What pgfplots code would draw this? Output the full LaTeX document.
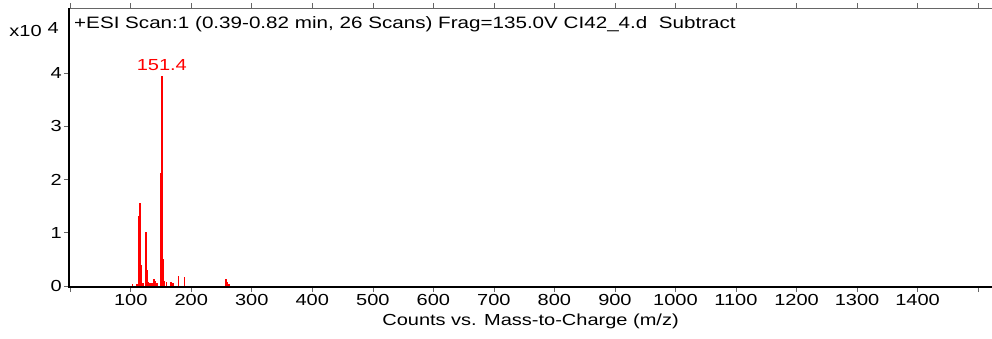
\documentclass[border=0pt]{standalone}
\usepackage{pgfplots}
\pgfplotsset{compat=1.18}
\usepackage{fontspec}
\setmainfont{Liberation Sans}[FakeStretch=1.25]
\begin{document}
\begin{tikzpicture}
\begin{axis}[
  scale only axis,
  width=923pt, height=279pt,
  xmin=-2, xmax=1523,
  ymin=-0.02, ymax=5.22,
  xtick={0,100,...,1500},
  xticklabels={,100,200,300,400,500,600,700,800,900,1000,1100,1200,1300,1400,},
  ytick={0,1,2,3,4},
  tick align=outside,
  major tick length=5pt,
  tick style={black!60, line width=0.6pt},
  axis line style={black!60, line width=0.6pt},
  tick label style={font=\fontsize{16}{16}\selectfont},
  /pgf/number format/assume math mode=true,
  xlabel={Counts vs. Mass-to-Charge (m/z)},
  xlabel style={font=\fontsize{16}{16}\selectfont, inner sep=0pt, yshift=-6pt},
  xticklabel style={inner sep=2pt},
  yticklabel style={inner sep=2pt},
  clip=false,
]
\addplot[ycomb, red, line width=1.6pt, mark=none] coordinates {
(103,0.03) (110,0.03) (113,1.31) (115.7,1.55) (117,0.4) (120,0.05)
(124.8,1.02) (127,0.30) (129,0.08) (132,0.06) (135,0.05) (138,0.13) (140,0.10)
(143,0.05) (149.5,0.6) (150.4,2.12) (151.4,3.94) (152.4,1.3) (153.4,0.5) (155,0.1)
(159,0.07) (167,0.08) (170,0.05) (179,0.19) (189,0.16)
(257,0.13) (258.5,0.11) (260,0.08) (262,0.03)
};
\node[red, font=\fontsize{16}{16}\selectfont, anchor=base] at (axis cs:151.4,4.05) {151.4};
\draw[black, line width=1.4pt] (rel axis cs:0,1) -- (rel axis cs:0,0) -- (rel axis cs:1,0);
\node[anchor=base west, font=\fontsize{16.5}{16.5}\selectfont, inner sep=0pt] at ([xshift=5pt,yshift=-20pt]rel axis cs:0,1) {+ESI Scan:1 (0.39-0.82 min, 26 Scans) Frag=135.0V CI42\_4.d\ \ Subtract};
\node[anchor=base east, font=\fontsize{16}{16}\selectfont, inner sep=0pt] at ([xshift=-10pt,yshift=-28pt]rel axis cs:0,1) {x10\hspace{6pt}\raisebox{3pt}{4}};
\coordinate (sw) at (rel axis cs:0,0);
\coordinate (ne) at (rel axis cs:1,1);
\end{axis}
\pgfresetboundingbox
\path ([shift={(-69pt,-51pt)}]sw) rectangle ([shift={(0pt,8pt)}]ne);
\end{tikzpicture}
\end{document}
